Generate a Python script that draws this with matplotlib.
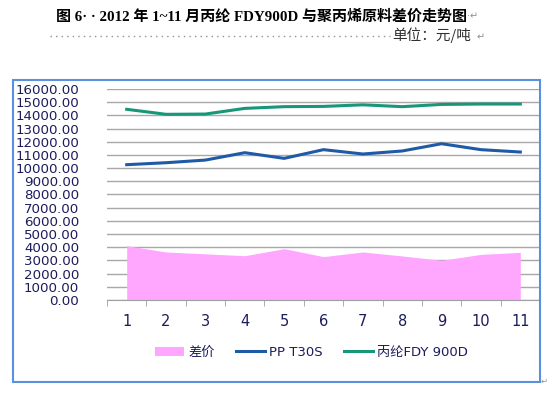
import numpy as np
import matplotlib.pyplot as plt
from matplotlib.patches import Rectangle
from matplotlib.lines import Line2D

# data (元/吨)
months = ['1', '2', '3', '4', '5', '6', '7', '8', '9', '10', '11']
fdy900d = [14460, 14080, 14100, 14530, 14660, 14680, 14800, 14660, 14830, 14860, 14860]
pp_t30s = [10260, 10410, 10610, 11170, 10740, 11400, 11070, 11300, 11850, 11400, 11220]
spread = [4120, 3640, 3500, 3360, 3890, 3290, 3640, 3340, 3010, 3460, 3610]

navy = '#1c1c5c'
plt.rcParams['font.family'] = ['DejaVu Sans', 'Noto Sans CJK SC']

fig = plt.figure(figsize=(5.53, 3.95), dpi=100)
ax = fig.add_axes([0.1935, 0.2405, 0.7830, 0.5342])

x = np.arange(1, len(months) + 1)
ax.fill_between(x, spread, 0, color='#ffa6ff', lw=0, label='差价', zorder=2)
ax.plot(x, pp_t30s, color='#1f5aa6', lw=2.2, label='PP T30S', zorder=3)
ax.plot(x, fdy900d, color='#17967a', lw=2.2, label='丙纶FDY 900D', zorder=3)

ax.set_xlim(0.5, 11.5)
ax.set_ylim(0, 16000)
ax.set_yticks(np.arange(0, 16001, 1000))
ax.set_yticklabels(['%.2f' % v for v in np.arange(0, 16001, 1000)])
ax.yaxis.grid(True, color='#a8a8a8', lw=1, zorder=0)
ax.set_axisbelow(True)
ax.set_xticks(x)
ax.set_xticklabels(months)
ax.set_xticks(np.arange(0.5, 11.6, 1), minor=True)
ax.tick_params(axis='x', which='major', length=0, pad=10, labelsize=10.5, labelcolor=navy)
ax.tick_params(axis='x', which='minor', length=4, color='#a0a0a0', direction='out')
ax.tick_params(axis='y', length=0, pad=20, labelsize=9.6, labelcolor=navy)
for s in ['top', 'right', 'left']:
    ax.spines[s].set_visible(False)
ax.spines['bottom'].set_color('#a0a0a0')

leg = fig.legend(loc='center', bbox_to_anchor=(0.563, 0.108), ncol=3, frameon=False,
                 handlelength=2.2, handletextpad=0.3, columnspacing=1.6,
                 prop={'family': ['DejaVu Sans', 'Noto Sans CJK SC'], 'size': 9.5})
for t in leg.get_texts():
    t.set_color(navy)

# chart border
fig.add_artist(Rectangle((0.0235, 0.033), 0.953, 0.7646, transform=fig.transFigure,
                         fill=False, ec='#5b8fe0', lw=1.5))

# title and unit line
fig.text(0.473, 0.958, '图 6· · 2012 年 1~11 月丙纶 FDY900D 与聚丙烯原料差价走势图',
         ha='center', va='center', fontsize=10.8, fontweight='bold',
         family=['Liberation Serif', 'Noto Sans CJK SC'])
fig.text(0.845, 0.958, '·↵', ha='left', va='center', fontsize=7, color='#909090')
fig.add_artist(Line2D([0.09, 0.705], [0.908, 0.908], transform=fig.transFigure,
                      color='#909090', lw=1, ls=(0, (1, 3))))
fig.text(0.71, 0.91, '单位：元/吨', ha='left', va='center', fontsize=10.5, color='#303030',
         family=['Noto Sans CJK SC', 'DejaVu Sans'])
fig.text(0.862, 0.905, '↵', ha='left', va='center', fontsize=7, color='#909090')
fig.text(0.978, 0.035, '↵', ha='left', va='center', fontsize=6, color='#909090')

fig.savefig('out.png', dpi=100)
